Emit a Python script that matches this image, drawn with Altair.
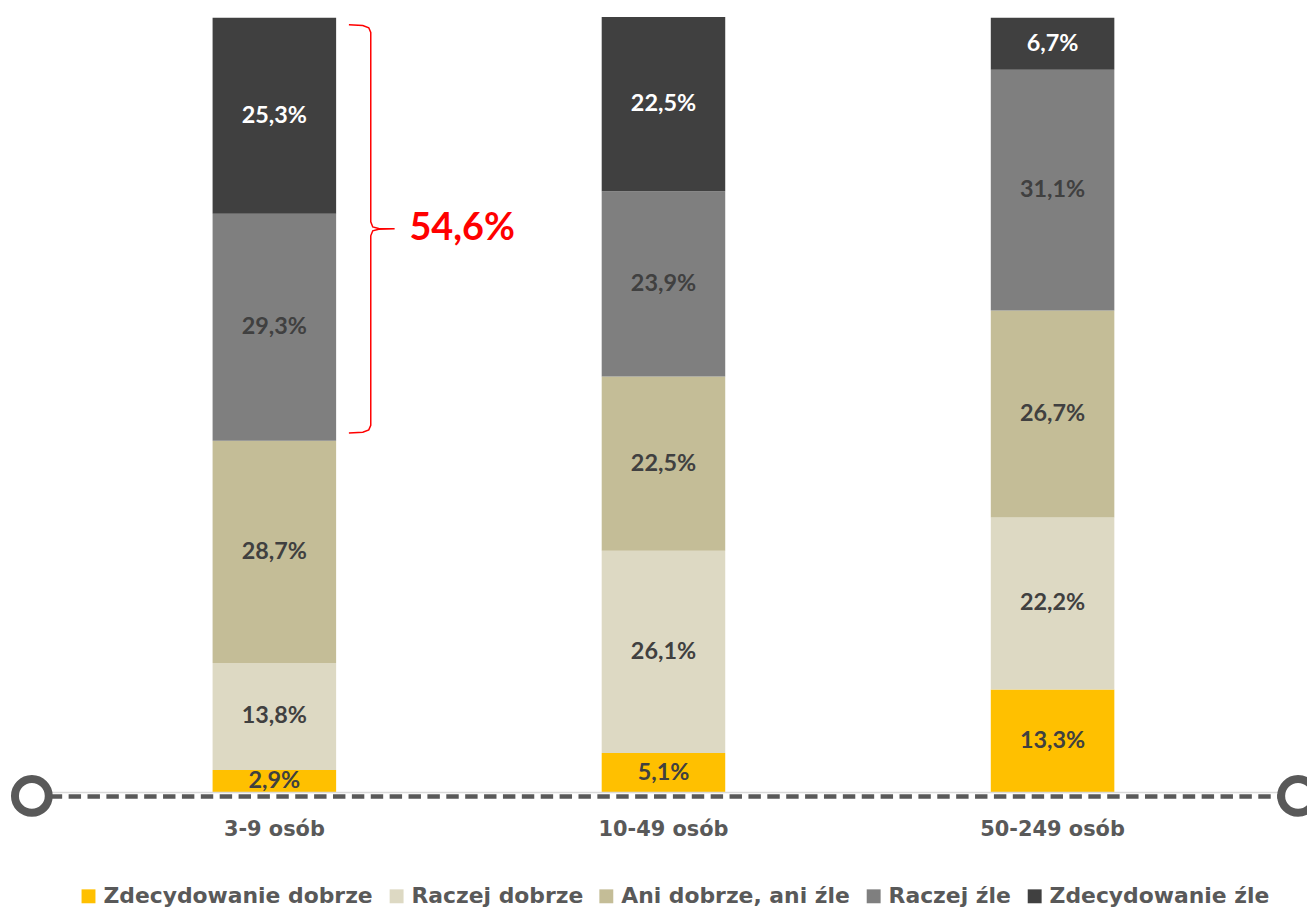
import altair as alt
import pandas as pd

categories = ["3-9 osób", "10-49 osób", "50-249 osób"]
series = ["Zdecydowanie dobrze", "Raczej dobrze", "Ani dobrze, ani źle", "Raczej źle", "Zdecydowanie źle"]
zdec_dobrze = [2.9, 5.1, 13.3]
raczej_dobrze = [13.8, 26.1, 22.2]
ani_ani = [28.7, 22.5, 26.7]
raczej_zle = [29.3, 23.9, 31.1]
zdec_zle = [25.3, 22.5, 6.7]
values = [zdec_dobrze, raczej_dobrze, ani_ani, raczej_zle, zdec_zle]
colors = ["#FFC000", "#DDD9C3", "#C4BD97", "#7F7F7F", "#404040"]


def fmt(v):
    return f"{v:.1f}".replace(".", ",") + "%"


rows = []
for ci, cat in enumerate(categories):
    cum = 0.0
    for si, s in enumerate(series):
        v = values[si][ci]
        rows.append(dict(cat=cat, series=s, idx=si, v=v, y0=cum, y1=cum + v,
                         mid=cum + v / 2, label=fmt(v), white=(si == 4)))
        cum += v
df = pd.DataFrame(rows)

W, H = 1307, 787
FONT = "DejaVu Sans"
NUMFONT = "Lato"
yscale = alt.Scale(domain=[0, 100], range=[786.5, 7], nice=False, zero=True)
xscale = alt.Scale(domain=categories, range=[72.25, 1246.75], paddingInner=0.6825, paddingOuter=0.34125)

bars = alt.Chart(df).mark_bar().encode(
    x=alt.X("cat:N", scale=xscale, sort=categories,
            axis=alt.Axis(title=None, domain=False, ticks=False, labelFontSize=21, labelFont=FONT,
                          labelFontWeight="bold", labelColor="#595959", labelPadding=26, labelAngle=0)),
    y=alt.Y("y0:Q", scale=yscale, axis=None),
    y2="y1:Q",
    color=alt.Color("series:N", scale=alt.Scale(domain=series, range=colors),
                    legend=alt.Legend(title=None, orient="none", legendX=70, legendY=880,
                                      direction="horizontal", columns=5, symbolType="square",
                                      symbolSize=196, symbolStrokeWidth=0, labelFontSize=22,
                                      labelFont=FONT, labelFontWeight="bold", labelColor="#595959",
                                      columnPadding=12, labelOffset=4, labelLimit=400)),
)

text_base = alt.Chart(df)
labels_dark = text_base.transform_filter("!datum.white").mark_text(
    fontSize=23.5, font=NUMFONT, fontWeight="bold", color="#404040").encode(
    x=alt.X("cat:N", scale=xscale, sort=categories, axis=None),
    y=alt.Y("mid:Q", scale=yscale, axis=None),
    text="label:N",
)
labels_white = text_base.transform_filter("datum.white").mark_text(
    fontSize=23.5, font=NUMFONT, fontWeight="bold", color="#FFFFFF").encode(
    x=alt.X("cat:N", scale=xscale, sort=categories, axis=None),
    y=alt.Y("mid:Q", scale=yscale, axis=None),
    text="label:N",
)

# bracket annotation for "Raczej źle" + "Zdecydowanie źle" in first group
neg_sum = raczej_zle[0] + zdec_zle[0]
lo = zdec_dobrze[0] + raczej_dobrze[0] + ani_ani[0] + 1.0
hi = lo + neg_sum - 1.9
bmid = (lo + hi) / 2
bx = [343, 357, 363, 365, 365, 367, 373, 389, 373, 367, 365, 365, 363, 357, 343]
by = [hi, hi - 0.1, hi - 0.4, hi - 1.0, bmid + 0.9, bmid + 0.25, bmid + 0.05, bmid,
      bmid - 0.05, bmid - 0.25, bmid - 0.9, lo + 1.0, lo + 0.4, lo + 0.1, lo]
bdf = pd.DataFrame({"bx": bx, "by": by, "o": list(range(len(bx)))})
bracket = alt.Chart(bdf).mark_line(color="#FF0000", strokeWidth=1.5).encode(
    x=alt.X("bx:Q", scale=None, axis=None),
    y=alt.Y("by:Q", scale=yscale, axis=None),
    order="o:Q",
)
sum_text = alt.Chart(pd.DataFrame({"t": [fmt(neg_sum)], "y": [bmid]})).mark_text(
    fontSize=38, font=NUMFONT, fontWeight="bold", color="#FF0000").encode(
    x=alt.value(457), y=alt.Y("y:Q", scale=yscale, axis=None), text="t:N")

one = pd.DataFrame({"a": [0]})
base_line = alt.Chart(one).mark_rule(color="#D9D9D9", strokeWidth=1.5).encode(
    x=alt.value(40), x2=alt.value(1284), y=alt.value(786.5))
dashed = alt.Chart(one).mark_rule(color="#595959", strokeWidth=4.5, strokeDash=[12.5, 6.5]).encode(
    x=alt.value(42), x2=alt.value(1282), y=alt.value(790.5))
circ_l = alt.Chart(one).mark_point(shape="circle", filled=False, size=1156, strokeWidth=8,
                                   color="#595959", opacity=1).encode(x=alt.value(24), y=alt.value(790))
circ_r = alt.Chart(one).mark_point(shape="circle", filled=False, size=1156, strokeWidth=8,
                                   color="#595959", opacity=1).encode(x=alt.value(1298), y=alt.value(790))

chart = alt.layer(bars, base_line, dashed, circ_l, circ_r, labels_dark, labels_white, bracket, sum_text).resolve_scale(
    x="independent"
).properties(
    width=W, height=H,
    padding={"left": 0, "top": 0, "right": 0, "bottom": 117},
    autosize=alt.AutoSizeParams(type="none"),
    background="white",
).configure_view(stroke=None)

chart.save("out.html", embed_options={"renderer": "svg", "actions": False})
